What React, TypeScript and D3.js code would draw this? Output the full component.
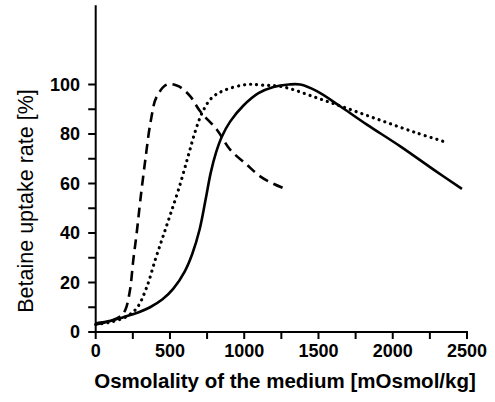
import React from 'react';
import * as d3 from 'd3';

// osmolality (mOsmol/kg) vs betaine uptake rate (%)
const dashedX = [0, 100, 170, 200, 231, 253, 276, 300, 335, 370, 410, 480, 550, 590, 640, 703, 815, 905, 1017, 1107, 1200, 1290];
const dashedY = [3, 4.5, 6.5, 9, 17, 29, 40, 53, 70, 85, 95, 100, 99.5, 98, 95, 89.2, 81.8, 73.7, 67.6, 62.9, 59.8, 57.5];

const dottedX = [0, 100, 200, 276, 343, 400, 450, 500, 560, 620, 670, 720, 780, 860, 1017, 1120, 1264, 1489, 1714, 1938, 2163, 2342];
const dottedY = [3, 4, 6, 9.6, 18, 29, 38, 47, 58, 70.5, 81, 89, 94.5, 97.5, 100, 99.8, 99, 94.6, 89.9, 85.1, 80.4, 77];

const solidX = [0, 100, 186, 290, 366, 450, 523, 600, 650, 700, 740, 775, 810, 850, 905, 995, 1096, 1197, 1300, 1377, 1489, 1646, 1826, 2051, 2275, 2466];
const solidY = [3.5, 4.5, 6, 8, 10, 13.2, 17.5, 24.5, 31.5, 41.5, 53.5, 64.5, 72.5, 79, 85, 91.5, 96.5, 99, 100, 100, 97.3, 91.2, 83.8, 75, 65.6, 57.8];

const xTickLabels = [0, 500, 1000, 1500, 2000, 2500];
const xMinorTicks = [250, 750, 1250, 1750, 2250];
const yTickLabels = [0, 20, 40, 60, 80, 100];
const yMinorTicks = [10, 30, 50, 70, 90];

const font = '"Liberation Sans", Arial, sans-serif';

const App = () => {
  const width = 495;
  const height = 402;

  const xScale = d3.scaleLinear().domain([0, 2500]).range([95.7, 467]);
  const yScale = d3.scaleLinear().domain([0, 100]).range([332, 84.5]);
  const yTop = 132;

  const lineGenerator = d3.line()
    .x(d => xScale(d[0]))
    .y(d => yScale(d[1]))
    .curve(d3.curveCatmullRom.alpha(0.5));

  const dashedPath = lineGenerator(dashedX.map((x, i) => [x, dashedY[i]]));
  const dottedPath = lineGenerator(dottedX.map((x, i) => [x, dottedY[i]]));
  const solidPath = lineGenerator(solidX.map((x, i) => [x, solidY[i]]));

  const x0 = xScale(0);
  const y0 = yScale(0);

  return (
    <div style={{ position: 'absolute', left: 0, top: 0 }}>
      <svg width={width} height={height} style={{ display: 'block', background: '#fff' }}>
        <path d={dashedPath} fill='none' stroke='#000' strokeWidth={2.6} strokeDasharray='10,6' />
        <path d={dottedPath} fill='none' stroke='#000' strokeWidth={3.2} strokeDasharray='0.1,6' strokeLinecap='round' />
        <path d={solidPath} fill='none' stroke='#000' strokeWidth={2.6} />

        {/* y axis */}
        <line x1={x0} x2={x0} y1={yScale(yTop)} y2={y0 + 1} stroke='#000' strokeWidth={2} />
        {yTickLabels.concat(yMinorTicks).map(t => (
          <line key={`yt-${t}`} x1={x0 - 7.5} x2={x0} y1={yScale(t)} y2={yScale(t)} stroke='#000' strokeWidth={2} />
        ))}
        {yTickLabels.map(t => (
          <text key={`yl-${t}`} x={80} y={yScale(t)} dy='0.35em' textAnchor='end'
            style={{ fontFamily: font, fontWeight: 'bold', fontSize: '18px' }}>{t}</text>
        ))}

        {/* x axis */}
        <line x1={x0 - 1} x2={xScale(2500) + 1} y1={y0} y2={y0} stroke='#000' strokeWidth={2} />
        {xTickLabels.concat(xMinorTicks).map(t => (
          <line key={`xt-${t}`} x1={xScale(t)} x2={xScale(t)} y1={y0} y2={y0 + 7} stroke='#000' strokeWidth={2} />
        ))}
        {xTickLabels.map(t => (
          <text key={`xl-${t}`} x={xScale(t)} y={356.5} textAnchor='middle'
            style={{ fontFamily: font, fontWeight: 'bold', fontSize: '18px' }}>{t}</text>
        ))}

        <text x={285} y={388} textAnchor='middle'
          style={{ fontFamily: font, fontWeight: 'bold', fontSize: '20.5px' }}>
          Osmolality of the medium [mOsmol/kg]
        </text>
        <text transform={`translate(33, 201) rotate(-90)`} textAnchor='middle'
          style={{ fontFamily: font, fontSize: '21.5px' }}>
          Betaine uptake rate [%]
        </text>
      </svg>
    </div>
  );
};

export default App;
